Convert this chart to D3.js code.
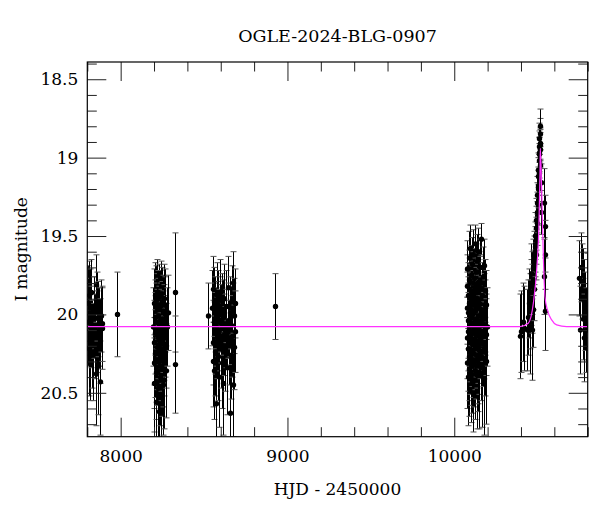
<!DOCTYPE html>
<html><head><meta charset="utf-8">
<script src="https://cdn.jsdelivr.net/npm/d3@7/dist/d3.min.js"></script>
<style>body{margin:0;background:#fff}svg{display:block}</style>
</head><body><svg id="c" width="600" height="512"></svg>
<script>
const title = "OGLE-2024-BLG-0907";
const xLabel = "HJD - 2450000";
const yLabel = "I magnitude";
const xMajorTicks = [8000, 9000, 10000];
const yMajorTicks = [18.5, 19, 19.5, 20, 20.5];
const yTickLabels = ["18.5", "19", "19.5", "20", "20.5"];

// [HJD-2450000, I mag, error]
const season2017 = [[7802,19.93,0.24],[7806,20.05,0.28],[7809,19.88,0.22],[7812,20.22,0.30],[7815,19.96,0.25],[7818,20.26,0.29],[7821,19.86,0.21],[7825,20.08,0.26],[7829,20.19,0.28],[7833,20.24,0.31],[7838,19.99,0.23],[7842,20.02,0.26],[7846,20.14,0.27],[7850,19.81,0.19],[7853,20.38,0.33],[7857,20.11,0.26],[7860,19.95,0.22],[7863,20.33,0.31],[7866,20.03,0.24],[7870,20.08,0.25],[7874,20.17,0.27],[7878,20.43,0.34],[7882,20.01,0.23],[7886,20.09,0.26],[7889,20.06,0.24]];
const isolated = [[7976,20.00,0.27],[8325,19.86,0.38],[8327,20.32,0.31],[8526,20.01,0.21],[8925,19.95,0.21]];
const season2018 = [[8196,20.08,0.25],[8198,20.31,0.29],[8199,19.93,0.22],[8201,20.18,0.27],[8202,20.44,0.31],[8204,19.88,0.21],[8205,20.02,0.24],[8207,20.25,0.28],[8208,20.12,0.26],[8210,19.91,0.22],[8211,20.37,0.30],[8212,20.05,0.25],[8214,20.56,0.34],[8215,19.97,0.23],[8216,20.21,0.27],[8218,20.10,0.26],[8219,19.86,0.21],[8220,20.29,0.29],[8222,20.01,0.24],[8223,20.47,0.32],[8224,20.15,0.26],[8226,19.94,0.22],[8227,20.33,0.30],[8228,20.07,0.25],[8230,20.62,0.35],[8231,19.89,0.21],[8232,20.19,0.27],[8234,20.40,0.31],[8235,20.04,0.24],[8236,19.95,0.23],[8238,20.27,0.28],[8239,20.13,0.26],[8240,19.87,0.21],[8242,20.52,0.33],[8243,20.09,0.25],[8244,20.22,0.27],[8246,19.92,0.22],[8247,20.35,0.30],[8248,20.03,0.24],[8250,20.17,0.27],[8251,20.45,0.32],[8252,19.98,0.23],[8254,20.11,0.26],[8255,20.30,0.29],[8257,19.90,0.22],[8258,20.06,0.25],[8260,20.24,0.28],[8262,20.42,0.31],[8264,20.00,0.24],[8266,20.14,0.26],[8268,19.94,0.23],[8270,20.20,0.27],[8273,20.36,0.30],[8277,20.08,0.25],[8282,19.99,0.24]];
const season2019 = [[8548,19.96,0.24],[8551,20.18,0.27],[8553,19.84,0.21],[8556,20.30,0.29],[8558,20.05,0.25],[8560,20.36,0.31],[8562,19.92,0.22],[8564,20.12,0.26],[8566,20.24,0.28],[8568,19.99,0.23],[8571,20.08,0.25],[8574,20.57,0.35],[8577,19.88,0.21],[8579,20.15,0.26],[8581,20.03,0.24],[8584,20.27,0.28],[8586,19.94,0.22],[8589,20.10,0.26],[8592,20.40,0.32],[8595,20.00,0.24],[8598,19.86,0.21],[8601,20.20,0.27],[8604,20.06,0.25],[8607,19.97,0.23],[8610,20.31,0.29],[8613,20.44,0.33],[8616,20.02,0.24],[8619,19.90,0.22],[8622,20.13,0.26],[8626,20.22,0.27],[8630,19.95,0.23],[8634,20.09,0.25],[8638,20.34,0.30],[8642,19.83,0.20],[8646,20.04,0.24],[8650,20.18,0.27],[8654,20.63,0.36],[8657,19.99,0.23],[8660,20.26,0.28],[8663,20.07,0.25],[8666,19.91,0.22],[8669,20.14,0.26],[8672,20.45,0.33],[8674,19.80,0.20],[8677,20.01,0.24],[8680,20.21,0.27],[8683,19.93,0.22],[8686,20.11,0.26]];
const season2023 = [[10075,19.82,0.20],[10076,20.15,0.26],[10077,19.96,0.23],[10078,20.31,0.29],[10079,19.71,0.18],[10080,20.04,0.24],[10081,20.22,0.27],[10082,19.88,0.21],[10083,20.40,0.31],[10084,19.99,0.23],[10085,20.11,0.25],[10086,19.64,0.17],[10087,20.27,0.28],[10088,19.93,0.22],[10089,20.08,0.25],[10090,20.35,0.30],[10091,19.78,0.19],[10092,20.17,0.26],[10093,19.90,0.22],[10094,20.02,0.24],[10095,19.58,0.15],[10096,20.24,0.27],[10097,20.13,0.26],[10098,19.85,0.21],[10099,20.38,0.31],[10100,19.97,0.23],[10101,20.06,0.24],[10102,19.75,0.19],[10103,20.29,0.29],[10104,19.91,0.22],[10105,20.19,0.27],[10106,19.68,0.17],[10107,20.00,0.23],[10108,20.33,0.30],[10109,19.87,0.21],[10110,20.10,0.25],[10111,19.80,0.20],[10112,20.25,0.28],[10113,19.94,0.22],[10114,20.42,0.33],[10115,19.62,0.16],[10116,20.05,0.24],[10117,20.16,0.26],[10118,19.89,0.21],[10119,20.30,0.29],[10120,19.77,0.19],[10121,20.09,0.25],[10122,19.98,0.23],[10123,20.21,0.27],[10124,19.55,0.12],[10125,20.12,0.25],[10126,19.84,0.20],[10127,20.36,0.31],[10128,19.95,0.22],[10129,20.03,0.24],[10130,19.73,0.18],[10131,20.26,0.28],[10132,19.92,0.22],[10133,20.14,0.26],[10134,20.39,0.34],[10135,19.81,0.20],[10136,20.07,0.24],[10137,19.66,0.17],[10138,20.20,0.27],[10139,19.90,0.22],[10140,20.32,0.30],[10141,20.01,0.23],[10142,19.86,0.21],[10143,20.18,0.26],[10144,19.60,0.15],[10145,20.28,0.29],[10146,19.96,0.23],[10147,20.10,0.25],[10148,19.79,0.19],[10149,20.23,0.28],[10150,19.93,0.22],[10151,20.37,0.36],[10152,19.70,0.18],[10153,20.04,0.24],[10154,20.15,0.26],[10156,19.83,0.20],[10158,20.27,0.28],[10160,19.99,0.23],[10162,19.52,0.10],[10164,20.11,0.25],[10166,20.34,0.38],[10168,19.88,0.21],[10170,20.06,0.24],[10172,19.76,0.19],[10174,20.19,0.27],[10176,19.97,0.23],[10178,20.41,0.36],[10180,19.69,0.17],[10182,20.02,0.24],[10184,20.24,0.28],[10186,19.85,0.20],[10188,20.13,0.26],[10190,19.94,0.22],[10192,20.30,0.40],[10194,20.08,0.25]];
const season2024 = [[10392,20.14,0.27],[10398,20.11,0.26],[10410,20.05,0.25],[10421,20.09,0.27],[10438,20.10,0.26],[10444,20.02,0.24],[10449,19.93,0.22],[10453,19.98,0.24],[10456,20.08,0.30],[10459,19.86,0.21],[10462,19.74,0.19],[10464,19.90,0.22],[10466,20.10,0.32],[10468,19.80,0.20],[10470,19.97,0.24],[10472,19.70,0.18],[10474,19.78,0.19],[10476,19.64,0.17],[10478,19.84,0.20],[10480,19.67,0.17],[10482,19.57,0.16],[10484,19.60,0.16],[10486,19.50,0.15],[10488,19.62,0.16],[10489,19.45,0.14],[10491,19.40,0.14],[10492,19.53,0.15],[10494,19.35,0.13],[10495,19.29,0.13],[10497,19.42,0.14],[10498,19.24,0.12],[10500,19.18,0.12],[10501,19.30,0.13],[10502,19.12,0.12],[10504,19.08,0.11],[10505,19.20,0.12],[10506,19.02,0.11],[10507,18.98,0.11],[10508,19.10,0.12],[10509,18.93,0.10],[10510,18.97,0.10],[10511,18.88,0.10],[10512,18.91,0.10],[10513,18.85,0.10],[10514,18.80,0.11],[10515,18.95,0.11],[10516,19.05,0.12],[10517,18.92,0.10],[10518,19.16,0.12],[10520,19.35,0.14],[10541,19.29,0.22],[10542,19.44,0.20],[10543,19.62,0.22],[10541,19.76,0.24],[10543,19.98,0.25]];
const season2025 = [[10748,19.77,0.24],[10752,20.10,0.28],[10760,19.70,0.22],[10765,19.79,0.24],[10770,20.03,0.26],[10773,19.81,0.23],[10778,19.90,0.25],[10780,20.15,0.28],[10784,19.98,0.25],[10789,20.10,0.27],[10794,19.85,0.24]];

// model light curve: [HJD-2450000, I mag]
const modelCurve = [[7800,20.078],[10394,20.078],[10444,20.056],[10474,19.93],[10494,19.716],[10508,19.416],[10514,19.097],[10516,18.94],[10524,19.206],[10534,19.63],[10544,19.887],[10558,19.97],[10584,20.035],[10614,20.067],[10674,20.078],[10800,20.078]];

const L = 87.3, R = 587.7, T = 62, B = 436.7;
const FONT = "'DejaVu Serif', serif";
const svg = d3.select("#c");
const x = d3.scaleLinear().domain([7800, 10800]).range([L, R]);
const y = d3.scaleLinear().domain([18.39, 20.78]).range([T, B]);

svg.append("defs").append("clipPath").attr("id","clip")
  .append("rect").attr("x",L).attr("y",T).attr("width",R-L).attr("height",B-T);

const allData = [].concat(season2017, isolated, season2018, season2019, season2023, season2024, season2025);
const plot = svg.append("g").attr("clip-path","url(#clip)");

// error bars
const eb = plot.append("g").attr("stroke","#000").attr("stroke-width",1);
allData.forEach(d => {
  const cx = Math.round(x(d[0])) + 0.5;
  const y0 = y(d[1]-d[2]), y1 = y(d[1]+d[2]);
  eb.append("line").attr("x1",cx).attr("x2",cx).attr("y1",y0).attr("y2",y1);
  eb.append("line").attr("x1",cx-3).attr("x2",cx+3).attr("y1",y0).attr("y2",y0).attr("stroke","#555");
  eb.append("line").attr("x1",cx-3).attr("x2",cx+3).attr("y1",y1).attr("y2",y1).attr("stroke","#555");
});

plot.append("g").selectAll("circle").data(allData).join("circle")
  .attr("cx", d=>Math.round(x(d[0]))+0.5).attr("cy", d=>y(d[1])).attr("r", 2.7).attr("fill","#000");

// model
plot.append("path").datum(modelCurve)
  .attr("fill","none").attr("stroke","#ff33ff").attr("stroke-width",1.2)
  .attr("d", d3.line().x(d=>x(d[0])).y(d=>y(d[1])).curve(d3.curveMonotoneX));

// axes
const xMinor = d3.range(7800, 10801, 200).filter(v => !xMajorTicks.includes(v));
const yMinor = d3.range(184, 208).map(v => v/10).filter(v => !yMajorTicks.includes(v));

function styleAxis(g){
  g.select(".domain").remove();
  g.selectAll(".tick line").attr("stroke","#222");
  g.selectAll("text").attr("font-family",FONT).attr("font-size",17).attr("fill","#000");
}
svg.append("g").attr("transform",`translate(0,${B})`)
  .call(d3.axisBottom(x).tickValues(xMajorTicks).tickSize(-19).tickSizeOuter(0).tickPadding(13).tickFormat(d3.format("d")))
  .call(styleAxis);
svg.append("g").attr("transform",`translate(0,${B})`)
  .call(d3.axisBottom(x).tickValues(xMinor).tickSize(-9.5).tickSizeOuter(0).tickFormat(""))
  .call(styleAxis);
svg.append("g").attr("transform",`translate(0,${T})`)
  .call(d3.axisTop(x).tickValues(xMajorTicks).tickSize(-19).tickSizeOuter(0).tickFormat(""))
  .call(styleAxis);
svg.append("g").attr("transform",`translate(0,${T})`)
  .call(d3.axisTop(x).tickValues(xMinor).tickSize(-9.5).tickSizeOuter(0).tickFormat(""))
  .call(styleAxis);
svg.append("g").attr("transform",`translate(${L},0)`)
  .call(d3.axisLeft(y).tickValues(yMajorTicks).tickSize(-19).tickSizeOuter(0).tickPadding(9).tickFormat((d,i)=>yTickLabels[i]))
  .call(styleAxis);
svg.append("g").attr("transform",`translate(${L},0)`)
  .call(d3.axisLeft(y).tickValues(yMinor).tickSize(-9.5).tickSizeOuter(0).tickFormat(""))
  .call(styleAxis);
svg.append("g").attr("transform",`translate(${R},0)`)
  .call(d3.axisRight(y).tickValues(yMajorTicks).tickSize(-19).tickSizeOuter(0).tickFormat(""))
  .call(styleAxis);
svg.append("g").attr("transform",`translate(${R},0)`)
  .call(d3.axisRight(y).tickValues(yMinor).tickSize(-9.5).tickSizeOuter(0).tickFormat(""))
  .call(styleAxis);

svg.append("rect").attr("x",L).attr("y",T).attr("width",R-L).attr("height",B-T)
  .attr("fill","none").attr("stroke","#000").attr("stroke-width",1.2);

svg.append("text").attr("x",(L+R)/2).attr("y",41.5).attr("text-anchor","middle")
  .attr("font-family",FONT).attr("font-size",17.5).text(title);
svg.append("text").attr("x",(L+R)/2).attr("y",495).attr("text-anchor","middle")
  .attr("font-family",FONT).attr("font-size",17).text(xLabel);
svg.append("text").attr("transform",`translate(27,${(T+B)/2}) rotate(-90)`).attr("text-anchor","middle")
  .attr("font-family",FONT).attr("font-size",17).text(yLabel);
</script></body></html>
